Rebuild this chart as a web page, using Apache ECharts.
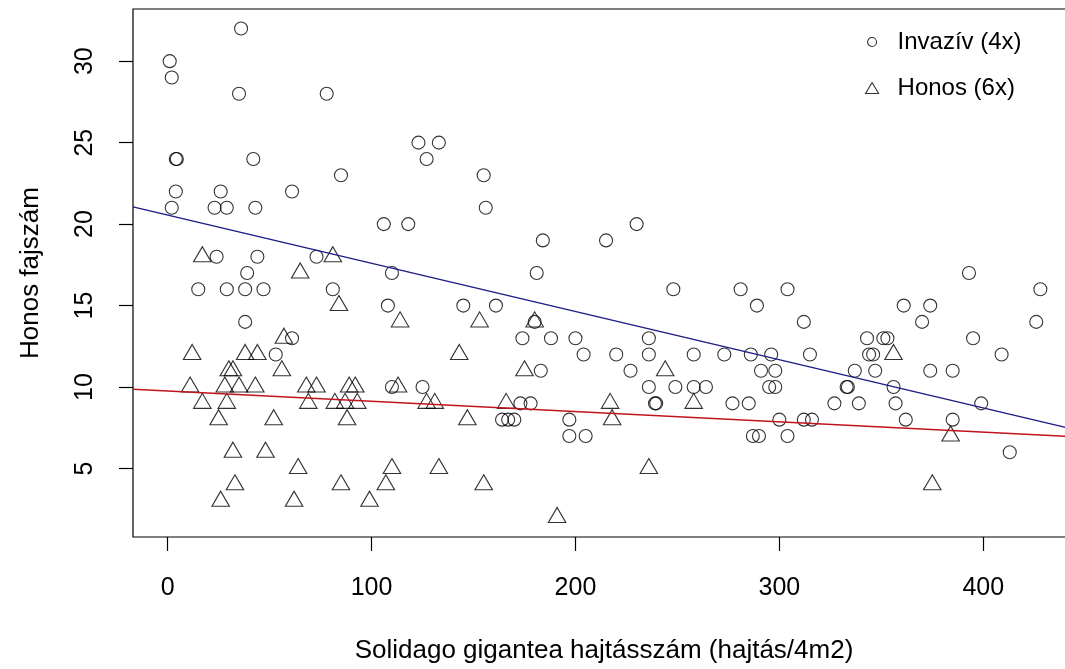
<!DOCTYPE html>
<html><head><meta charset="utf-8">
<script src="https://cdn.jsdelivr.net/npm/echarts@6/dist/echarts.min.js"></script>
<style>html,body{margin:0;padding:0;width:1065px;height:669px;overflow:hidden;background:#fff}
#c{width:1076px;height:669px}</style></head>
<body><div id="c"></div>
<script>
// Invazív (4x) – circles
const invX = [36,1,2,35,78,123,133,4,4.5,42,127,85,155,4,26,61,2,23,29,43,156,106,118,230,184,215,24,44,73,39,110,181,393,15,29,38,47,81,248,281,304,428,108,145,161,289,361,374,38,180,312,370,426,61,174,188,200,236,343,351,353,395,53,204,220,236,258,273,286,296,315,344,346,409,183,227,291,298,337,347,374,385,110,125,236,249,258,264,295,298,333,333.6,356,173,178,239,239.6,277,285,327,339,357,399,164,167,170,197,300,312,316,362,385,197,205,287,290,304,413];
const invY = [32,30,29,28,28,25,25,24,24,24,24,23,23,22,22,22,21,21,21,21,21,20,20,20,19,19,18,18,18,17,17,17,17,16,16,16,16,16,16,16,16,16,15,15,15,15,15,15,14,14,14,14,14,13,13,13,13,13,13,13,13,13,12,12,12,12,12,12,12,12,12,12,12,12,11,11,11,11,11,11,11,11,10,10,10,10,10,10,10,10,10,10,10,9,9,9,9,9,9,9,9,9,9,8,8,8,8,8,8,8,8,8,7,7,7,7,7,6];
// Honos (6x) – triangles
const honX = [17,81,65,84,114,153,180,57,12,38,44,143,356,30,32,56,175,244,11,28,35,43,68,73,89,92,113,17,29,69,82,87,93,127,131,166,217,258,25,52,88,147,218,384,32,48,64,110,133,236,33,85,107,155,375,26,62,99,191];
const honY = [18,18,17,15,14,14,14,13,12,12,12,12,12,11,11,11,11,11,10,10,10,10,10,10,10,10,10,9,9,9,9,9,9,9,9,9,9,9,8,8,8,8,8,7,6,6,5,5,5,5,4,4,4,4,4,3,3,3,2];
// regression lines (endpoints at the plot edges)
const invLineX = [-17, 445];
const invLineY = [21.06, 7.39];
const honLineX = [-17, 445];
const honLineY = [9.87, 6.95];
const xTicks = [0, 100, 200, 300, 400];
const yTicks = [5, 10, 15, 20, 25, 30];
const names = ['Invazív (4x)', 'Honos (6x)'];

const pairs = (xs, ys) => xs.map((x, i) => [x, ys[i]]);
const FONT = 'Liberation Sans, Arial, sans-serif';
const chart = echarts.init(document.getElementById('c'), null, {renderer: 'canvas'});
const hollow = {color: 'transparent', borderColor: '#000', borderWidth: 1.1};
chart.setOption({
  animation: false,
  backgroundColor: '#fff',
  grid: {left: 133, top: 9, right: 1, bottom: 132, show: true, borderColor: '#000', borderWidth: 1.2, backgroundColor: 'transparent'},
  xAxis: {
    type: 'value', min: -17, max: 445,
    splitLine: {show: false}, axisLine: {show: false, onZero: false},
    axisTick: {show: true, customValues: xTicks, length: 14, lineStyle: {color: '#000', width: 1.2}},
    axisLabel: {customValues: xTicks, margin: 39, fontSize: 25, color: '#000', fontFamily: FONT},
    name: 'Solidago gigantea hajtásszám (hajtás/4m2)', nameLocation: 'middle', nameGap: 101,
    nameTextStyle: {fontSize: 26, color: '#000', fontFamily: FONT}
  },
  yAxis: {
    type: 'value', min: 0.8, max: 33.2,
    splitLine: {show: false}, axisLine: {show: false, onZero: false},
    axisTick: {show: true, customValues: yTicks, length: 14, lineStyle: {color: '#000', width: 1.2}},
    axisLabel: {customValues: yTicks, margin: 35, rotate: 90, fontSize: 25, color: '#000', fontFamily: FONT},
    name: 'Honos fajszám', nameLocation: 'middle', nameGap: 89,
    nameTextStyle: {fontSize: 26, color: '#000', fontFamily: FONT}
  },
  legend: [
    {data: [names[0]], left: 862, top: 25, orient: 'vertical', itemWidth: 9, itemHeight: 9,
     itemStyle: hollow, textStyle: {fontSize: 24, color: '#000', fontFamily: FONT, padding: [0,0,0,16], lineHeight: 24}},
    {data: [names[1]], left: 860, top: 71, orient: 'vertical', itemWidth: 13, itemHeight: 11,
     itemStyle: hollow, textStyle: {fontSize: 24, color: '#000', fontFamily: FONT, padding: [0,0,0,14], lineHeight: 24}}
  ],
  series: [
    {name: names[0], type: 'scatter', data: pairs(invX, invY), symbol: 'circle', symbolSize: 13,
     itemStyle: hollow, silent: true},
    {name: names[1], type: 'scatter', data: pairs(honX, honY), symbol: 'triangle', symbolSize: [17.5, 15],
     symbolOffset: [0, -2.5], itemStyle: hollow, silent: true},
    {type: 'line', data: pairs(invLineX, invLineY), showSymbol: false, lineStyle: {color: '#1c1c86', width: 1.4}, silent: true, z: 3},
    {type: 'line', data: pairs(honLineX, honLineY), showSymbol: false, lineStyle: {color: '#c0141c', width: 1.4}, silent: true, z: 3}
  ]
});
</script></body></html>
